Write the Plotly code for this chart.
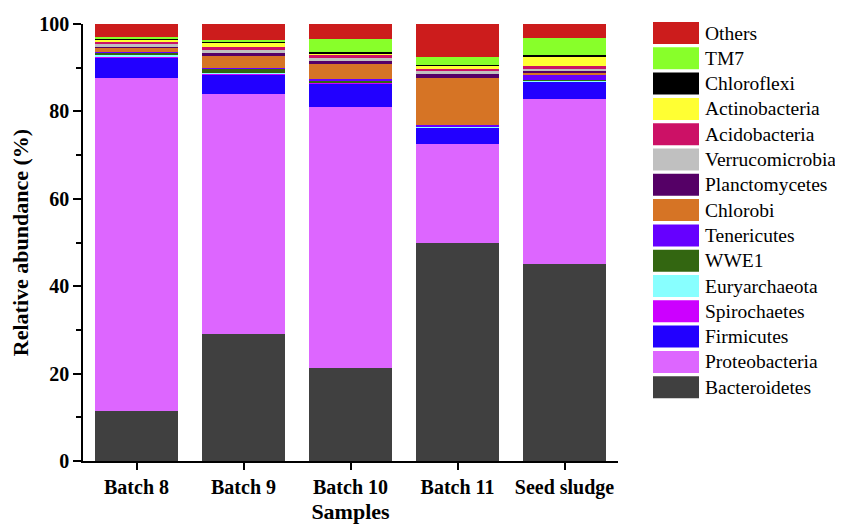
import plotly.graph_objects as go

samples = ["Batch 8", "Batch 9", "Batch 10", "Batch 11", "Seed sludge"]

# stacking order: bottom -> top
taxa = ["Bacteroidetes", "Proteobacteria", "Firmicutes", "Spirochaetes", "Euryarchaeota",
        "WWE1", "Tenericutes", "Chlorobi", "Planctomycetes", "Verrucomicrobia",
        "Acidobacteria", "Actinobacteria", "Chloroflexi", "TM7", "Others"]

Bacteroidetes   = [11.5, 29.1, 21.3, 50.0, 45.1]
Proteobacteria  = [76.1, 54.9, 59.7, 22.5, 37.7]
Firmicutes      = [4.7, 4.5, 5.4, 3.8, 4.0]
Spirochaetes    = [0.3, 0.1, 0.15, 0.05, 0.1]
Euryarchaeota   = [0.3, 0.25, 0.1, 0.15, 0.1]
WWE1            = [0.6, 0.9, 0.4, 0.15, 0.3]
Tenericutes     = [0.1, 0.15, 0.4, 0.35, 1.1]
Chlorobi        = [1.1, 2.75, 3.3, 10.6, 0.5]
Planctomycetes  = [0.2, 0.75, 0.85, 0.9, 0.4]
Verrucomicrobia = [0.45, 0.75, 0.7, 0.9, 0.5]
Acidobacteria   = [0.6, 0.6, 0.5, 0.3, 0.5]
Actinobacteria  = [0.6, 1.05, 0.5, 0.75, 2.3]
Chloroflexi     = [0.1, 0.2, 0.2, 0.2, 0.3]
TM7             = [0.3, 0.25, 3.0, 1.8, 4.0]
Others          = [3.05, 3.75, 3.5, 7.55, 3.1]

values = [Bacteroidetes, Proteobacteria, Firmicutes, Spirochaetes, Euryarchaeota,
          WWE1, Tenericutes, Chlorobi, Planctomycetes, Verrucomicrobia,
          Acidobacteria, Actinobacteria, Chloroflexi, TM7, Others]

colors = ["#404040", "#DD66FF", "#2200FF", "#CC00FF", "#88FFFF",
          "#336611", "#6600FF", "#D67425", "#550066", "#C0C0C0",
          "#CC1166", "#FFFF33", "#000000", "#88FF2A", "#CC1C1C"]

y_ticks = [0, 20, 40, 60, 80, 100]

fig = go.Figure()
for name, vals, col in zip(taxa, values, colors):
    fig.add_trace(go.Bar(x=samples, y=vals, name=name, marker=dict(color=col, line=dict(width=0)),
                         showlegend=False))

# the page body has an 8px margin, so the figure is drawn 8px smaller and offset
OFF = 8
W, H = 843 - OFF, 525 - OFF
L, T = 83 - OFF, 24 - OFF
R = W - (618 - OFF)
B = H - (461 - OFF)
pw = W - L - R
ph = H - T - B

fig.update_layout(
    width=W, height=H,
    barmode="stack", bargap=0.23,
    margin=dict(l=L, r=R, t=T, b=B, autoexpand=False),
    plot_bgcolor="white", paper_bgcolor="white",
    font=dict(family="Liberation Serif", color="black"),
)
fig.update_xaxes(
    automargin=False,
    showline=True, linecolor="black", linewidth=1.5,
    ticks="outside", ticklen=7, tickwidth=1.5, tickcolor="black",
    tickfont=dict(size=20, family="Liberation Serif", weight="bold"),
    title=dict(text="<b>Samples</b>", font=dict(size=22), standoff=6),
    showgrid=False, range=[-0.5, 4.5],
)
fig.update_yaxes(
    automargin=False,
    range=[0, 100], tickvals=y_ticks, ticktext=[str(v) for v in y_ticks],
    showline=True, linecolor="black", linewidth=1.5,
    ticks="outside", ticklen=8, tickwidth=1.5, tickcolor="black",
    minor=dict(ticks="outside", ticklen=5, tickwidth=1.5, tickcolor="black", dtick=10, tick0=0),
    tickfont=dict(size=20, family="Liberation Serif", weight="bold"),
    title=dict(text="<b>Relative abundance (%)</b>", font=dict(size=22), standoff=8),
    showgrid=False, zeroline=False,
)

# manual legend with large swatches (top entry = Others)
sw_x0, sw_x1, txt_x = 653 - OFF, 699 - OFF, 703 - OFF
y0, step, sh = 33 - OFF, 25.3, 22
for i, (name, col) in enumerate(zip(reversed(taxa), reversed(colors))):
    cy = y0 + i * step
    fig.add_shape(type="rect", xref="paper", yref="paper",
                  x0=(sw_x0 - L) / pw, x1=(sw_x1 - L) / pw,
                  y0=(H - B - (cy + sh / 2)) / ph, y1=(H - B - (cy - sh / 2)) / ph,
                  fillcolor=col, line=dict(width=0))
    fig.add_annotation(xref="paper", yref="paper", x=(txt_x - L) / pw, y=(H - B - cy) / ph,
                       text=name, showarrow=False, xanchor="left", yanchor="middle",
                       font=dict(size=19.5, family="Liberation Serif", color="black"))

fig.write_html("out.html")
